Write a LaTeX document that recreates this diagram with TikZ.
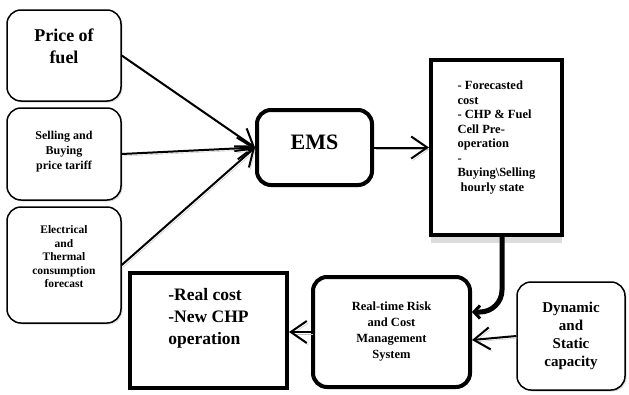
\documentclass[tikz,border=0pt]{standalone}
\usepackage{fontspec}
\setmainfont{Liberation Serif}
\usetikzlibrary{arrows.meta,shadows}

\begin{document}
\begin{tikzpicture}[x=1pt,y=-1pt]
\tikzstyle{softbox} = [draw, fill=white, line width=1.5pt, rounded corners=14pt, align=center,
    drop shadow={shadow xshift=1.5pt, shadow yshift=-1.5pt, fill=gray!55}]
\tikzstyle{hardbox} = [softbox, line width=4pt]
\tikzstyle{squarebox} = [draw, fill=white, line width=4pt, align=left]
\tikzstyle{feed} = [line width=2pt, -{Straight Barb[length=16pt,width=22pt,line width=2pt]},
    preaction={draw=gray!50, transform canvas={xshift=1.5pt,yshift=-2pt}}]
\useasboundingbox (0,0) rectangle (629,394);
	% inputs on the left
	\node[softbox, minimum width=114pt, minimum height=91pt,
		font=\bfseries\fontsize{18}{22}\selectfont] (price) at (64,55.5)
		{Price of\\fuel\\[-4pt]\mbox{}};
	\node[softbox, minimum width=114pt, minimum height=92pt,
		font=\bfseries\fontsize{12}{15}\selectfont] (tariff) at (64,154)
		{Selling and\\Buying\\price tariff\\[-7pt]\mbox{}};
	\node[softbox, minimum width=114pt, minimum height=116pt,
		font=\bfseries\fontsize{11.5}{13.5}\selectfont] (forecast) at (64,265)
		{Electrical\\and\\Thermal\\consumption\\forecast\\[2.5pt]\mbox{}};
	% energy management
	\node[hardbox, minimum width=115pt, minimum height=75pt,
		font=\bfseries\fontsize{22}{26}\selectfont] (ems) at (314.5,147.5)
		{EMS\\[-16pt]\mbox{}};
	\node[squarebox, minimum width=131pt, minimum height=175pt,
		font=\bfseries\fontsize{12.5}{14.5}\selectfont,
		drop shadow={shadow xshift=0pt, shadow yshift=-8pt, fill=gray!55}] (plan) at (496.5,147.5)
		{- Forecasted\\cost\\- CHP \& Fuel\\Cell Pre-\\operation\\-\\Buying\textbackslash Selling\\\ hourly state\\[8pt]\mbox{}};
	% real-time part
	\node[hardbox, minimum width=157pt, minimum height=110pt,
		font=\bfseries\fontsize{12.5}{16}\selectfont] (risk) at (391.5,332)
		{Real-time Risk\\and Cost\\Management\\System};
	\node[softbox, minimum width=108pt, minimum height=108pt,
		font=\bfseries\fontsize{15}{18}\selectfont] (capacity) at (571,336)
		{Dynamic\\and\\Static\\capacity};
	\node[squarebox, minimum width=157pt, minimum height=115pt,
		font=\bfseries\fontsize{17.5}{22}\selectfont] (result) at (208.5,330.5)
		{-Real cost\\-New CHP\\operation\\[6pt]\mbox{}};
	% connectors
	\draw[feed] (price.east) -- (ems.west);
	\draw[feed] (tariff.east) -- (ems.west);
	\draw[feed] (forecast.east) -- (ems.west);
	\draw[feed] (ems.east) -- (plan.west);
	\draw[line width=5pt, line cap=round, rounded corners=22pt,
		-{Straight Barb[length=6pt,width=13pt,line width=3pt]}]
		([xshift=5.5pt]plan.south) |- ([yshift=20pt]risk.east);
	\draw[feed] (capacity.west) -- ([yshift=-8pt]risk.east);
	\draw[feed] (risk.west) -- (risk.west -| result.east);
\end{tikzpicture}
\end{document}
